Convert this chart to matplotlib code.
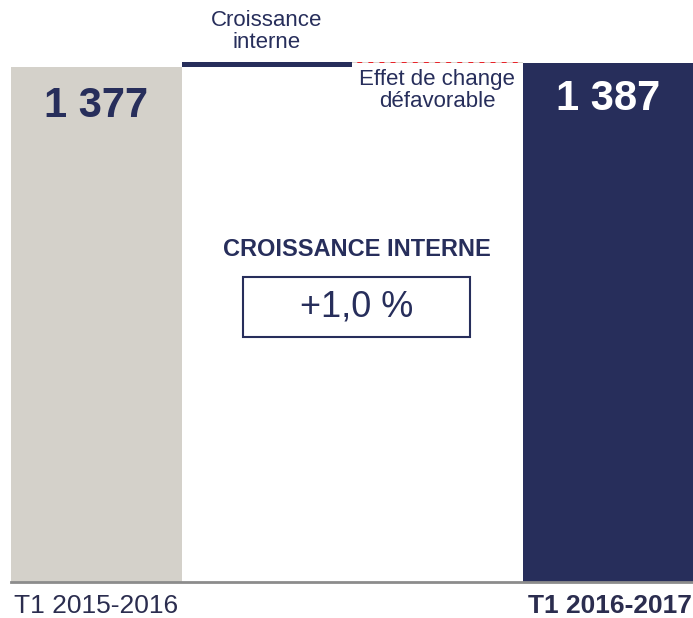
import matplotlib.pyplot as plt
from matplotlib.patches import Rectangle

plt.rcParams['font.family'] = ['Liberation Sans', 'DejaVu Sans']
plt.rcParams['hatch.linewidth'] = 2.5

# data (millions)
steps = ["T1 2015-2016", "Croissance interne", "Effet de change défavorable", "T1 2016-2017"]
start_value = 1377
internal_growth = 14
fx_effect = -4
end_value = 1387
growth_label = "+1,0 %"

NAVY = '#272e5b'
GRAY = '#d4d1ca'

fig = plt.figure(figsize=(6.93, 6.18), dpi=100)
ax = fig.add_axes([11 / 693, 36 / 618, 682 / 693, 582 / 618])

x = list(range(len(steps)))
ax.bar(x[0], start_value, width=1.0, color=GRAY, linewidth=0)
ax.bar(x[1], internal_growth, bottom=start_value, width=1.0, color=NAVY, linewidth=0)
fx_bottom = start_value + internal_growth + fx_effect
ax.bar(x[2], -fx_effect, bottom=fx_bottom, width=1.0, color='#dcd9d2',
       edgecolor='#e8242a', hatch='///', linewidth=0)
ax.bar(x[3], end_value, width=1.0, color=NAVY, linewidth=0)

ax.set_xlim(-0.5, 3.5)
ax.set_ylim(0, 1556)

for s in ['top', 'right', 'left']:
    ax.spines[s].set_visible(False)
ax.spines['bottom'].set_color('#8c8c8c')
ax.spines['bottom'].set_linewidth(2)
ax.set_yticks([])
ax.set_xticks([])

# bar value labels
ax.annotate("1 377", (x[0], start_value), xytext=(0, -28), textcoords='offset points',
            ha='center', va='center', fontsize=30, fontweight='bold', color=NAVY)
ax.annotate("1 387", (x[3], end_value), xytext=(0, -26), textcoords='offset points',
            ha='center', va='center', fontsize=30, fontweight='bold', color='white')

# step labels
ax.annotate("Croissance\ninterne", (x[1], start_value + internal_growth), xytext=(0, 6),
            textcoords='offset points', ha='center', va='bottom', fontsize=16,
            color=NAVY, linespacing=1.1)
ax.annotate("Effet de change\ndéfavorable", (x[2], fx_bottom), xytext=(0, -4),
            textcoords='offset points', ha='center', va='top', fontsize=16,
            color=NAVY, linespacing=1.05)

# category labels
fig.text(14 / 693, 1 - 606 / 618, steps[0], ha='left', va='center', fontsize=19, color='#2b2d4f')
fig.text(692 / 693, 1 - 606 / 618, steps[3], ha='right', va='center', fontsize=19,
         fontweight='bold', color='#2b2d4f')

# internal growth callout
fig.text(357 / 693, 1 - 249 / 618, "CROISSANCE INTERNE", ha='center', va='center',
         fontsize=17, fontweight='bold', color=NAVY)
fig.add_artist(Rectangle((243 / 693, 1 - 337 / 618), 227 / 693, 60 / 618,
                         transform=fig.transFigure, fill=False, edgecolor=NAVY, linewidth=1.5))
fig.text(357 / 693, 1 - 307 / 618, growth_label, ha='center', va='center',
         fontsize=26, color=NAVY)

fig.savefig('out.png', dpi=100)
